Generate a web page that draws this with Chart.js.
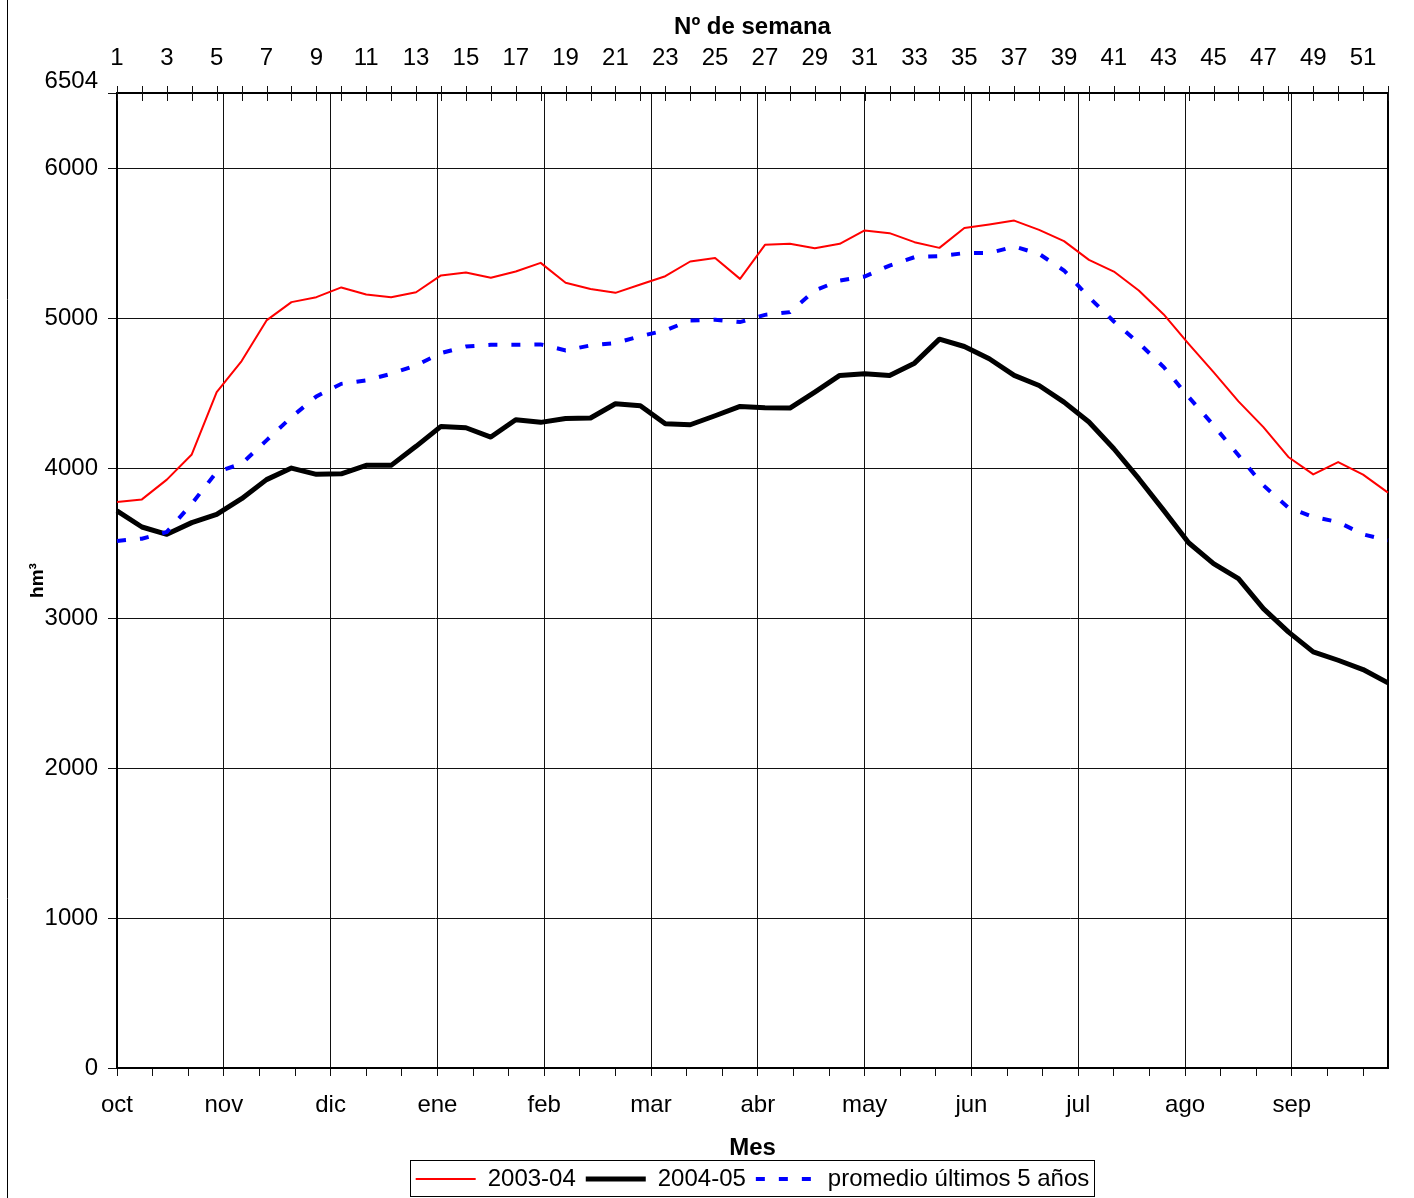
<!DOCTYPE html>
<html>
<head>
<meta charset="utf-8">
<script src="https://cdn.jsdelivr.net/npm/chart.js@4.4.1/dist/chart.umd.min.js"></script>
<style>
html, body { margin: 0; padding: 0; background: #fff; }
canvas { display: block; }
</style>
</head>
<body>
<canvas id="c" width="1414" height="1198"></canvas>
<script>
// ---- Data ----
const weekLabels = ['1','2','3','4','5','6','7','8','9','10','11','12','13','14','15','16','17','18','19','20',
  '21','22','23','24','25','26','27','28','29','30','31','32','33','34','35','36','37','38','39','40',
  '41','42','43','44','45','46','47','48','49','50','51','52'];
const monthLabels = ['oct','nov','dic','ene','feb','mar','abr','may','jun','jul','ago','sep'];
const yTickValues = [0, 1000, 2000, 3000, 4000, 5000, 6000, 6504];
const seriesNames = ['2003-04', '2004-05', 'promedio últimos 5 años'];

const serie2003_04 = [3775, 3793, 3925, 4093, 4509, 4716, 4987, 5109, 5142, 5207, 5160, 5142, 5175,
  5287, 5307, 5271, 5313, 5371, 5238, 5196, 5171, 5227, 5282, 5380, 5404, 5264, 5491, 5498, 5469,
  5498, 5587, 5569, 5509, 5471, 5604, 5627, 5653, 5591, 5516, 5391, 5313, 5187, 5027, 4831, 4642,
  4447, 4275, 4076, 3960, 4042, 3958, 3838];
const serie2004_05 = [3716, 3609, 3560, 3638, 3693, 3798, 3925, 4002, 3960, 3964, 4020, 4020, 4147,
  4280, 4271, 4209, 4324, 4307, 4333, 4336, 4431, 4418, 4298, 4291, 4351, 4413, 4404, 4402, 4509,
  4620, 4631, 4620, 4702, 4862, 4813, 4731, 4620, 4553, 4442, 4309, 4131, 3931, 3720, 3504, 3364,
  3264, 3064, 2909, 2776, 2720, 2658, 2569];
const promedio5 = [3516, 3531, 3576, 3764, 3976, 4031, 4187, 4342, 4480, 4564, 4587, 4631, 4687,
  4769, 4813, 4824, 4824, 4827, 4787, 4820, 4836, 4882, 4920, 4987, 4991, 4976, 5024, 5042, 5187,
  5253, 5280, 5353, 5409, 5416, 5436, 5436, 5480, 5431, 5320, 5142, 4980, 4836, 4676, 4476, 4287,
  4087, 3887, 3738, 3676, 3642, 3560, 3520];

// ---- Chart ----
Chart.defaults.font.family = "'Liberation Sans', Arial, sans-serif";
Chart.defaults.color = '#000';

const DAYS_SPAN = 357; // 51 weeks of 7 days: bottom axis in days (months of 30 days)

const framePlugin = {
  id: 'frame',
  beforeDatasetsDraw(chart) {
    const { ctx, chartArea: a } = chart;
    ctx.save();
    ctx.strokeStyle = '#000';
    ctx.lineWidth = 2;
    ctx.strokeRect(a.left, a.top, a.right - a.left, a.bottom - a.top);
    // week ticks crossing the top axis
    const xw = chart.scales.xw;
    ctx.lineWidth = 1;
    ctx.strokeStyle = '#111';
    ctx.beginPath();
    for (let i = 0; i < xw.ticks.length; i++) {
      const x = Math.round(xw.getPixelForTick(i)) + 0.5;
      ctx.moveTo(x, a.top - 7);
      ctx.lineTo(x, a.top + 8);
    }
    ctx.stroke();
    ctx.restore();
  },
  afterDraw(chart) {
    const { ctx } = chart;
    ctx.save();
    // outer chart border on the left
    ctx.strokeStyle = '#000';
    ctx.lineWidth = 1;
    ctx.beginPath();
    ctx.moveTo(7.5, 0);
    ctx.lineTo(7.5, chart.height);
    ctx.stroke();
    // legend frame
    const boxes = chart.legend.legendHitBoxes;
    if (boxes && boxes.length) {
      let l = Infinity, r = -Infinity, t = Infinity;
      boxes.forEach(b => {
        l = Math.min(l, b.left);
        r = Math.max(r, b.left + b.width);
        t = Math.min(t, b.top);
      });
      const x0 = Math.round(l - 6) + 0.5, x1 = Math.round(r + 5) + 0.5;
      const y0 = Math.round(t - 7) + 0.5, y1 = Math.round(t + 29) + 0.5;
      ctx.strokeRect(x0, y0, x1 - x0, y1 - y0);
    }
    ctx.restore();
  }
};

new Chart(document.getElementById('c'), {
  type: 'line',
  data: {
    labels: weekLabels,
    datasets: [
      {
        label: seriesNames[0], data: serie2003_04, xAxisID: 'xw', yAxisID: 'y',
        borderColor: '#ff0000', backgroundColor: '#ff0000', borderWidth: 2,
        pointRadius: 0, tension: 0, borderJoinStyle: 'round', order: 2
      },
      {
        label: seriesNames[1], data: serie2004_05, xAxisID: 'xw', yAxisID: 'y',
        borderColor: '#000000', backgroundColor: '#000000', borderWidth: 5,
        pointRadius: 0, tension: 0, borderJoinStyle: 'round', order: 1
      },
      {
        label: seriesNames[2], data: promedio5, xAxisID: 'xw', yAxisID: 'y',
        borderColor: '#0000ff', backgroundColor: '#0000ff', borderWidth: 4,
        borderDash: [9, 14], borderCapStyle: 'butt',
        pointRadius: 0, tension: 0, order: 0
      }
    ]
  },
  options: {
    responsive: false,
    animation: false,
    devicePixelRatio: 1,
    layout: { padding: { left: 0, right: 26, top: 0, bottom: -3 } },
    plugins: {
      tooltip: { enabled: false },
      legend: {
        position: 'bottom',
        fullSize: false,
        align: 'center',
        labels: {
          usePointStyle: true,
          pointStyle: 'line',
          pointStyleWidth: 60,
          padding: 10,
          color: '#000',
          font: { size: 24 },
          sort: (a, b) => a.datasetIndex - b.datasetIndex,
          generateLabels: chart => {
            const items = Chart.defaults.plugins.legend.labels.generateLabels(chart);
            items.forEach(it => {
              const ds = chart.data.datasets[it.datasetIndex];
              it.lineDash = ds.borderDash || [];
              it.lineWidth = ds.borderWidth;
              it.strokeStyle = ds.borderColor;
              it.fillStyle = ds.borderColor;
              it.lineCap = 'butt';
              it.pointStyle = 'line';
            });
            return items;
          }
        }
      }
    },
    scales: {
      xw: {
        type: 'category',
        position: 'top',
        offset: false,
        grid: { display: true, drawOnChartArea: false, drawTicks: false },
        border: { display: true, color: '#000', width: 2 },
        ticks: {
          autoSkip: false, maxRotation: 0, minRotation: 0, padding: 20,
          color: '#000', font: { size: 24 },
          callback: (v, i) => (i % 2 === 0 ? weekLabels[i] : '')
        },
        title: {
          display: true, text: 'Nº de semana', color: '#000',
          font: { size: 24, weight: 'bold' }, padding: { top: 13, bottom: 0 }
        },
        afterFit: s => { s.height = 93; }
      },
      xm: {
        type: 'linear',
        position: 'bottom',
        min: 0,
        max: DAYS_SPAN,
        afterBuildTicks: s => {
          const t = [];
          for (let d = 0; d <= DAYS_SPAN; d += 10) t.push({ value: d });
          s.ticks = t;
        },
        grid: {
          color: c => (c.tick && c.tick.value % 30 === 0) ? '#111' : 'rgba(0,0,0,0)',
          tickColor: '#111', tickLength: 8, lineWidth: 1
        },
        border: { display: true, color: '#000', width: 2 },
        ticks: {
          autoSkip: false, maxRotation: 0, minRotation: 0, padding: 15,
          color: '#000', font: { size: 24 },
          callback: v => (v % 30 === 0 ? monthLabels[v / 30] : '')
        },
        title: {
          display: true, text: 'Mes', color: '#000',
          font: { size: 24, weight: 'bold' }, padding: { top: 0, bottom: -6 }
        },
        afterFit: s => { s.height = 89; }
      },
      y: {
        type: 'linear',
        position: 'left',
        min: 0,
        max: 6504,
        afterBuildTicks: s => { s.ticks = yTickValues.map(v => ({ value: v })); },
        grid: { color: '#111', tickColor: '#111', tickLength: 9, lineWidth: 1 },
        border: { display: true, color: '#000', width: 2 },
        ticks: {
          padding: 10, color: '#000', font: { size: 24, lineHeight: 1.0 },
          callback: v => (v === 6504 ? ['6504', ''] : String(v))
        },
        title: {
          display: true, text: 'hm³', color: '#000',
          font: { size: 19, weight: 'bold' }, padding: { top: 26, bottom: 0 }
        },
        afterFit: s => { s.width = 117; }
      }
    }
  },
  plugins: [framePlugin]
});
</script>
</body>
</html>
